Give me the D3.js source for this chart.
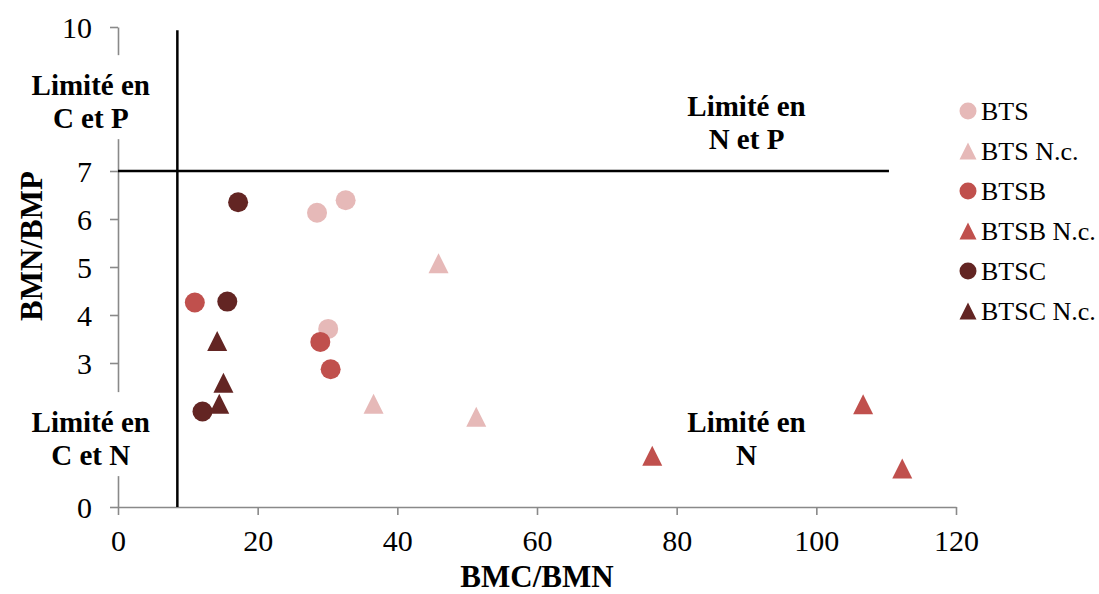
<!DOCTYPE html>
<html>
<head>
<meta charset="utf-8">
<script src="https://cdn.jsdelivr.net/npm/d3@7"></script>
<style>
  html, body { margin: 0; padding: 0; background: #fff; }
  svg { display: block; }
</style>
</head>
<body>
<svg id="chart" width="1099" height="594"></svg>
<script>
// ---- Data ----
const seriesNames = ["BTS", "BTS N.c.", "BTSB", "BTSB N.c.", "BTSC", "BTSC N.c."];
const seriesShapes = ["circle", "triangle", "circle", "triangle", "circle", "triangle"];
const seriesColors = ["#E6B9B8", "#E6B9B8", "#C0504D", "#C0504D", "#632523", "#632523"];

const btsX = [28.5, 32.6, 30.1];
const btsY = [6.13, 6.39, 3.71];
const btsNcX = [45.9, 36.6, 51.3];
const btsNcY = [5.08, 2.15, 1.88];
const btsbX = [11.0, 28.97, 30.45];
const btsbY = [4.26, 3.44, 2.87];
const btsbNcX = [76.5, 106.7, 112.3];
const btsbNcY = [1.07, 2.14, 0.80];
const btscX = [17.2, 15.65, 12.1];
const btscY = [6.35, 4.28, 1.99];
const btscNcX = [14.2, 15.1, 14.5];
const btscNcY = [3.46, 2.59, 2.15];

const xTicks = [0, 20, 40, 60, 80, 100, 120];
const yTicks = [0, 3, 4, 5, 6, 7, 10];

const xTitle = "BMC/BMN";
const yTitle = "BMN/BMP";

// threshold lines
const vLineX = 8.5, vLineY = [0, 9.93];
const hLineY = 7, hLineX = [0, 110.4];

const zoneLabels = [
  { lines: ["Limité en", "C et P"], x: -3.9, y: 8.58, bg: true },
  { lines: ["Limité en", "N et P"], x: 90, y: 8.15, bg: false },
  { lines: ["Limité en", "C et N"], x: -3.9, y: 1.56, bg: true },
  { lines: ["Limité en", "N"], x: 90, y: 1.56, bg: false }
];

const seriesX = [btsX, btsNcX, btsbX, btsbNcX, btscX, btscNcX];
const seriesY = [btsY, btsNcY, btsbY, btsbNcY, btscY, btscNcY];

// ---- Chart ----
const svg = d3.select("#chart");
const font = "'Liberation Serif', 'Times New Roman', serif";

const x = d3.scaleLinear().domain([0, 120]).range([118, 956]);
const y = d3.scaleLinear().domain([0, 10]).range([507, 27]);

const axisColor = "#898989";

// X axis
const gx = svg.append("g").attr("transform", `translate(0,${y(0)})`)
  .call(d3.axisBottom(x).tickValues(xTicks).tickSize(8).tickSizeOuter(0).tickPadding(15));
// Y axis
const gy = svg.append("g").attr("transform", `translate(${x(0)},0)`)
  .call(d3.axisLeft(y).tickValues(yTicks).tickSize(8).tickSizeOuter(0).tickPadding(18));

[gx, gy].forEach(g => {
  g.attr("font-family", font).attr("font-size", 30);
  g.select(".domain").attr("stroke", axisColor).attr("stroke-width", 1.6);
  g.selectAll(".tick line").attr("stroke", axisColor).attr("stroke-width", 1.6);
  g.selectAll(".tick text").attr("fill", "#000").attr("font-family", font).attr("font-size", 30);
});
gx.selectAll(".tick text").attr("dy", "0.71em");
gy.selectAll(".tick text").attr("dy", "0.34em");

// zone labels (with white boxes that hide the axis line)
const lineH = 33;
zoneLabels.forEach(lab => {
  const g = svg.append("g");
  const rect = g.append("rect").attr("fill", "#fff");
  const t = g.append("text")
    .attr("font-family", font).attr("font-weight", "bold").attr("font-size", 29)
    .attr("text-anchor", "middle").attr("fill", "#000");
  lab.lines.forEach((l, i) => {
    t.append("tspan").attr("x", x(lab.x)).attr("y", y(lab.y) + i * lineH).text(l);
  });
  if (lab.bg) {
    const bb = t.node().getBBox();
    rect.attr("x", bb.x - 6).attr("y", bb.y - 14).attr("width", bb.width + 12).attr("height", bb.height + 19);
  } else {
    rect.remove();
  }
});

// threshold lines
svg.append("line")
  .attr("x1", x(vLineX)).attr("x2", x(vLineX))
  .attr("y1", y(vLineY[0])).attr("y2", y(vLineY[1]))
  .attr("stroke", "#000").attr("stroke-width", 2.5);
svg.append("line")
  .attr("x1", x(hLineX[0])).attr("x2", x(hLineX[1]))
  .attr("y1", y(hLineY)).attr("y2", y(hLineY))
  .attr("stroke", "#000").attr("stroke-width", 2.5);

// marker drawing
function drawMarker(g, shape, cx, cy, size, color) {
  if (shape === "circle") {
    g.append("circle").attr("cx", cx).attr("cy", cy).attr("r", size / 2).attr("fill", color);
  } else {
    const h = size, w = size;
    g.append("path")
      .attr("d", `M${cx},${cy - h / 2}L${cx + w / 2},${cy + h / 2}L${cx - w / 2},${cy + h / 2}Z`)
      .attr("fill", color);
  }
}

// points
seriesNames.forEach((name, si) => {
  const g = svg.append("g").attr("class", "series");
  seriesX[si].forEach((xv, i) => {
    drawMarker(g, seriesShapes[si], x(xv), y(seriesY[si][i]), 20, seriesColors[si]);
  });
});

// legend
const legend = svg.append("g");
seriesNames.forEach((name, i) => {
  const cy = 111 + i * 40;
  drawMarker(legend, seriesShapes[i], 968, cy, 17, seriesColors[i]);
  legend.append("text").attr("x", 981).attr("y", cy + 9)
    .attr("font-family", font).attr("font-size", 26).attr("fill", "#000").text(name);
});

// axis titles
svg.append("text").attr("x", 537).attr("y", 587)
  .attr("text-anchor", "middle").attr("font-family", font).attr("font-weight", "bold")
  .attr("font-size", 31).attr("fill", "#000").text(xTitle);
svg.append("text").attr("transform", "translate(42,246) rotate(-90)")
  .attr("text-anchor", "middle").attr("font-family", font).attr("font-weight", "bold")
  .attr("font-size", 31).attr("fill", "#000").text(yTitle);
</script>
</body>
</html>
